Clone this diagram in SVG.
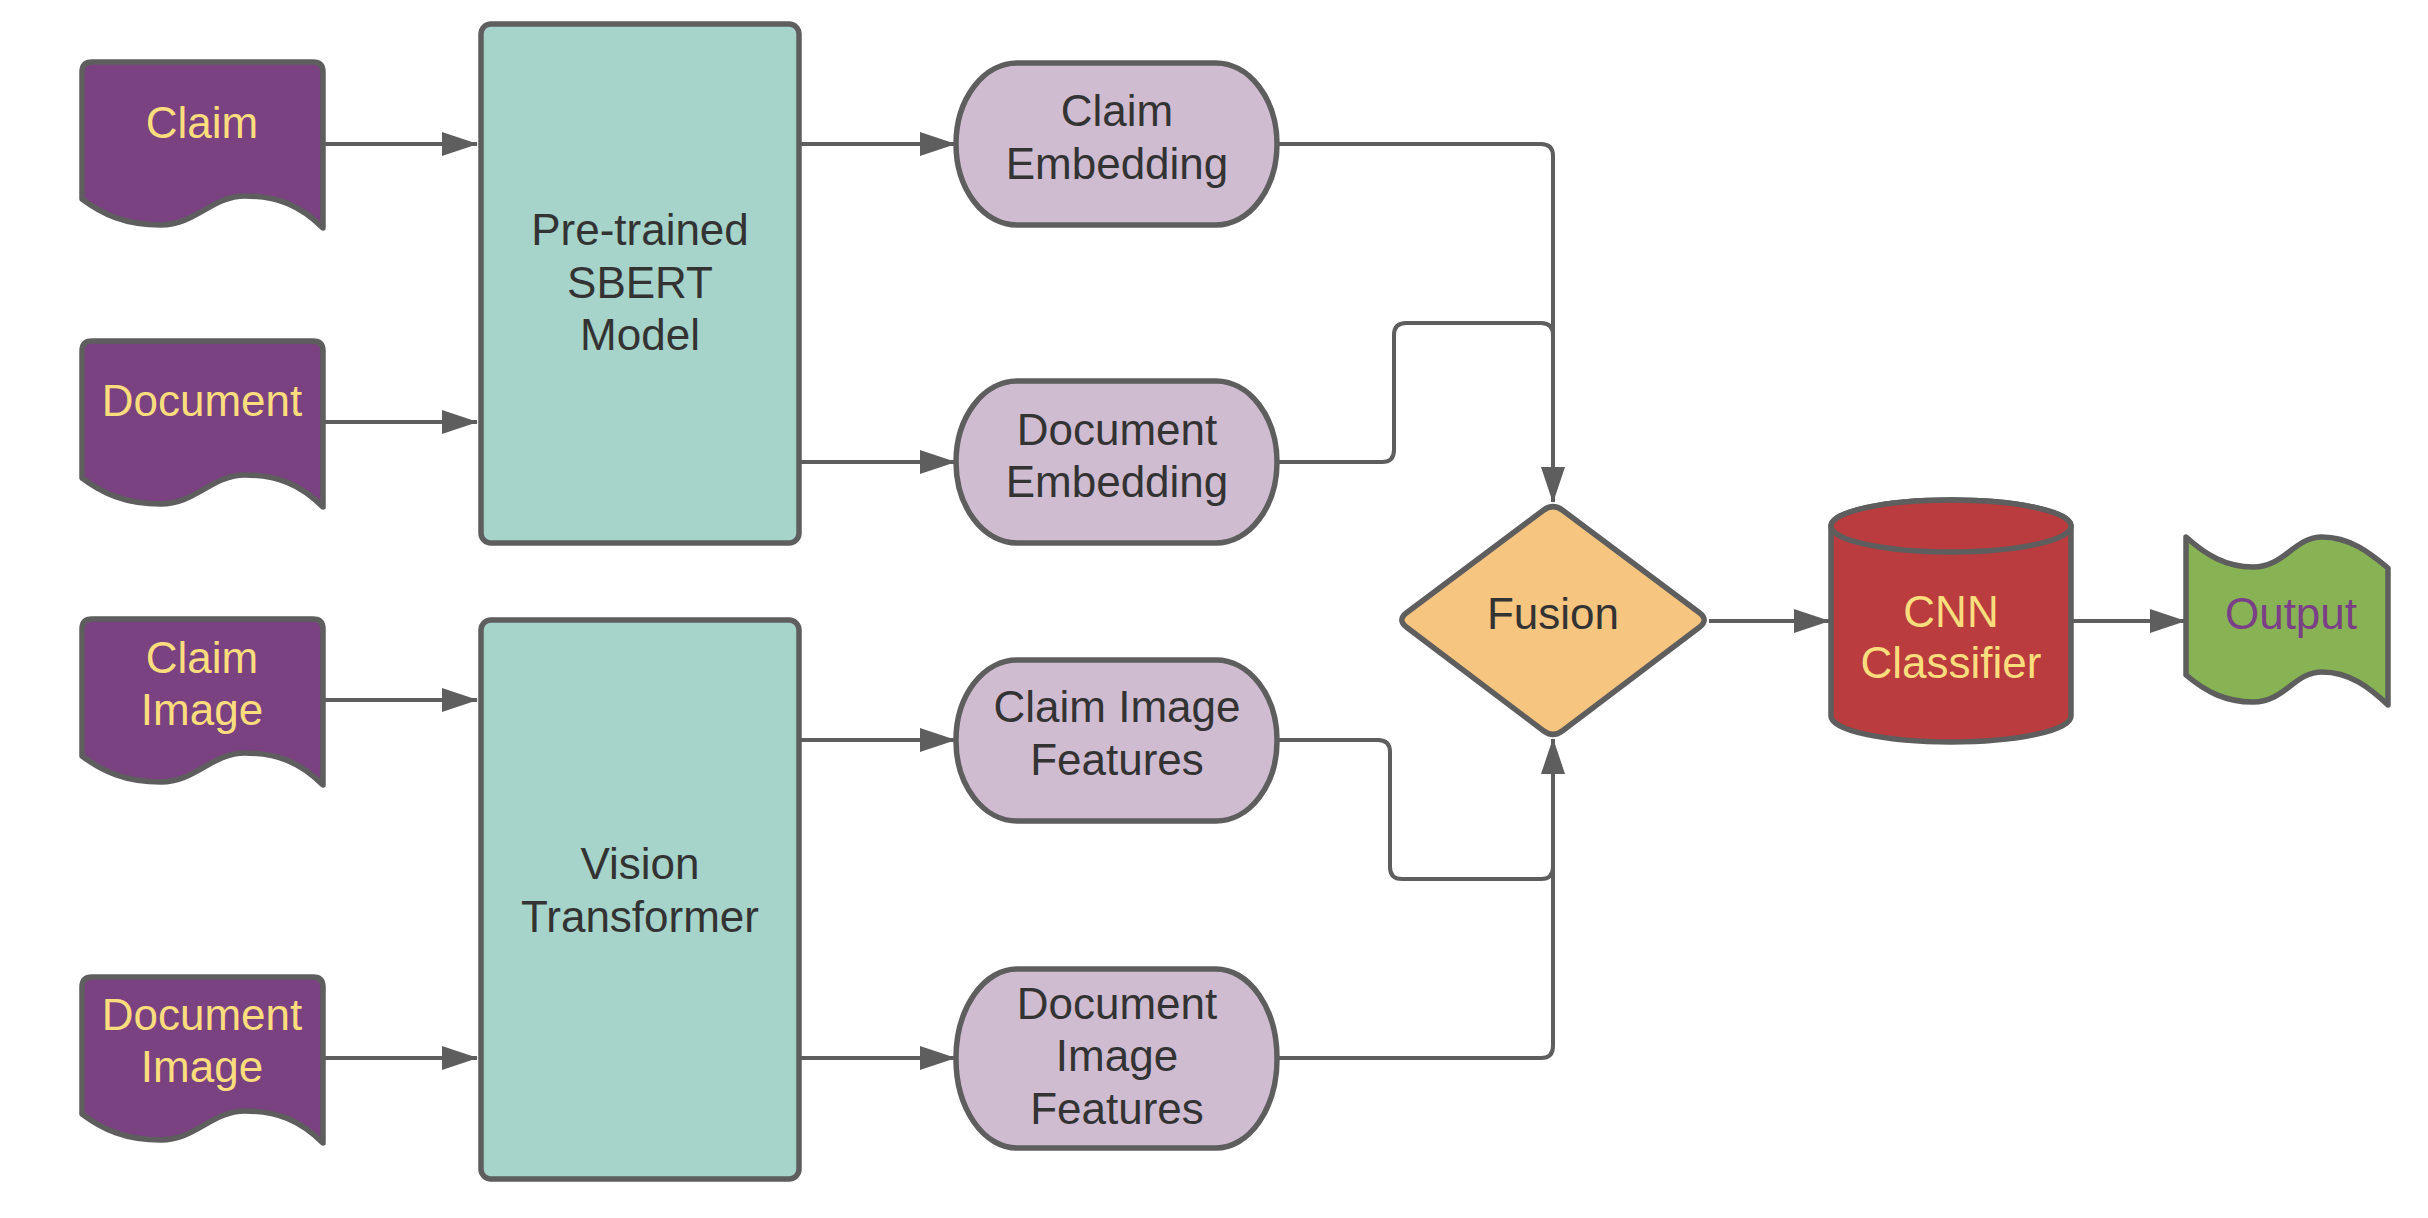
<svg xmlns="http://www.w3.org/2000/svg" width="2428" height="1218" viewBox="0 0 2428 1218">
<defs>
<style>
.sh{stroke:#5E5E5E;stroke-width:5.5;stroke-linejoin:round}
.doc{fill:#7A4281}
.box{fill:#A6D4CA}
.pill{fill:#CFBCD1}
.t{font-family:"Liberation Sans",Arial,sans-serif;font-size:44px;text-anchor:middle}
.dk{fill:#333333}
.yl{fill:#FBDD7E}
.cn{fill:none;stroke:#5E5E5E;stroke-width:4}
.ar{marker-end:url(#ah)}
</style>
<marker id="ah" markerWidth="36" markerHeight="24" refX="35" refY="12" orient="auto" markerUnits="userSpaceOnUse">
<path d="M0,0 L36,12 L0,24 Z" fill="#5E5E5E"/>
</marker>
<path id="docshape" d="M82,72 Q82,62 92,62 L313,62 Q323,62 323,72 L323,228 C300,205 277,196 245,196 C212,196 195,225 161,225 C125,225 102,214 82,199 Z"/>
</defs>
<rect width="2428" height="1218" fill="#FFFFFF"/>

<g id="connectors">
<path class="cn ar" d="M323,144 H477"/>
<path class="cn ar" d="M323,422 H477"/>
<path class="cn ar" d="M323,700 H477"/>
<path class="cn ar" d="M323,1058 H477"/>
<path class="cn ar" d="M799,144 H955"/>
<path class="cn ar" d="M799,462 H955"/>
<path class="cn ar" d="M799,740 H955"/>
<path class="cn ar" d="M799,1058 H955"/>
<path class="cn" d="M1277,462 H1382 Q1394,462 1394,450 V335 Q1394,323 1406,323 H1541 Q1553,323 1553,335 V345"/>
<path class="cn ar" d="M1277,144 H1541 Q1553,144 1553,156 V502"/>
<path class="cn" d="M1277,740 H1378 Q1390,740 1390,752 V867 Q1390,879 1402,879 H1541 Q1553,879 1553,867 V860"/>
<path class="cn ar" d="M1277,1058 H1541 Q1553,1058 1553,1046 V739"/>
<path class="cn ar" d="M1709,621 H1829"/>
<path class="cn ar" d="M2071,621 H2185"/>
</g>

<g id="claim">
<use href="#docshape" class="sh doc"/>
<text class="t yl" x="202" y="138">Claim</text>
</g>
<g id="document">
<use href="#docshape" class="sh doc" transform="translate(0,279)"/>
<text class="t yl" x="202" y="416">Document</text>
</g>
<g id="claim-image">
<use href="#docshape" class="sh doc" transform="translate(0,557)"/>
<text class="t yl" x="202" y="673">Claim</text>
<text class="t yl" x="202" y="725">Image</text>
</g>
<g id="document-image">
<use href="#docshape" class="sh doc" transform="translate(0,915)"/>
<text class="t yl" x="202" y="1030">Document</text>
<text class="t yl" x="202" y="1082">Image</text>
</g>

<g id="sbert">
<rect class="sh box" x="481" y="24" width="318" height="519" rx="10"/>
<text class="t dk" x="640" y="245">Pre-trained</text>
<text class="t dk" x="640" y="298">SBERT</text>
<text class="t dk" x="640" y="350">Model</text>
</g>
<g id="vit">
<rect class="sh box" x="481" y="620" width="318" height="559" rx="10"/>
<text class="t dk" x="640" y="879">Vision</text>
<text class="t dk" x="640" y="932">Transformer</text>
</g>

<g id="claim-embedding">
<rect class="sh pill" x="956" y="63" width="321" height="162" rx="61" ry="81"/>
<text class="t dk" x="1117" y="126">Claim</text>
<text class="t dk" x="1117" y="179">Embedding</text>
</g>
<g id="document-embedding">
<rect class="sh pill" x="956" y="381" width="321" height="162" rx="61" ry="81"/>
<text class="t dk" x="1117" y="445">Document</text>
<text class="t dk" x="1117" y="497">Embedding</text>
</g>
<g id="claim-image-features">
<rect class="sh pill" x="956" y="660" width="321" height="161" rx="61" ry="80"/>
<text class="t dk" x="1117" y="722">Claim Image</text>
<text class="t dk" x="1117" y="775">Features</text>
</g>
<g id="document-image-features">
<rect class="sh pill" x="956" y="969" width="321" height="179" rx="61" ry="89"/>
<text class="t dk" x="1117" y="1019">Document</text>
<text class="t dk" x="1117" y="1071">Image</text>
<text class="t dk" x="1117" y="1124">Features</text>
</g>

<g id="fusion">
<path class="sh" fill="#F6C580" d="M1562.6,510.2 L1699.4,612.8 Q1709,620 1699.4,627.2 L1562.6,730.8 Q1553,738 1543.4,730.8 L1406.6,627.2 Q1397,620 1406.6,612.8 L1543.4,510.2 Q1553,503 1562.6,510.2 Z"/>
<text class="t dk" x="1553" y="629">Fusion</text>
</g>

<g id="cnn">
<path class="sh" fill="#BA3C3F" d="M1831,526 A120,26 0 0 1 2071,526 V716 A120,26 0 0 1 1831,716 Z"/>
<ellipse class="sh" fill="#BA3C3F" cx="1951" cy="526" rx="120" ry="26"/>
<text class="t yl" x="1951" y="627">CNN</text>
<text class="t yl" x="1951" y="678">Classifier</text>
</g>

<g id="output">
<path class="sh" fill="#87B354" d="M2186,537 C2206,555 2226,567 2253,567 C2285,567 2294,537 2322,537 C2350,537 2370,553 2388,568 L2388,705 C2370,688 2350,672 2322,672 C2294,672 2285,702 2253,702 C2226,702 2206,692 2186,675 Z"/>
<text class="t" fill="#7B3F87" x="2291" y="629">Output</text>
</g>
</svg>
